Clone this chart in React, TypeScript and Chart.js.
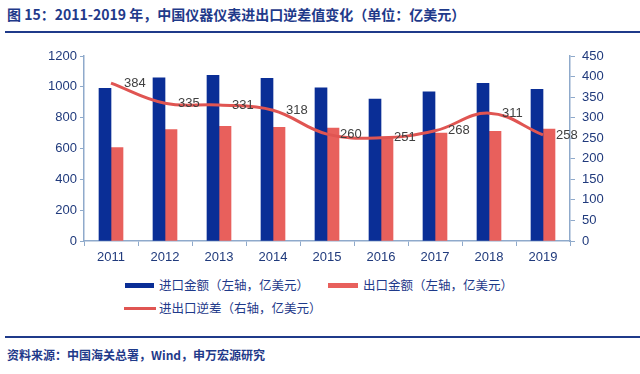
import React, { useEffect, useRef } from "react";
import { Chart, registerables } from "chart.js";

Chart.register(...registerables);

const categories = ["2011", "2012", "2013", "2014", "2015", "2016", "2017", "2018", "2019"];
const importValues = [990, 1058, 1075, 1055, 993, 921, 968, 1022, 984];
const exportValues = [606, 723, 744, 737, 733, 670, 700, 711, 726];
const deficitValues = [384, 335, 331, 318, 260, 251, 268, 311, 258];
const leftTicks = [0, 200, 400, 600, 800, 1000, 1200];
const rightTicks = [0, 50, 100, 150, 200, 250, 300, 350, 400, 450];

const TITLE = "图 15：2011-2019 年，中国仪器仪表进出口逆差值变化（单位：亿美元）";
const SOURCE = "资料来源：中国海关总署，Wind，申万宏源研究";
const LEGEND_IMPORT = "进口金额（左轴，亿美元）";
const LEGEND_EXPORT = "出口金额（左轴，亿美元）";
const LEGEND_DEFICIT = "进出口逆差（右轴，亿美元）";

const NAVY = "#1F3A8A";
const TICK_COLOR = "#203A7C";
const AXIS_COLOR = "#8FAACB";
const BLUE = "#0A2E96";
const RED = "#E8605C";
const LINE_RED = "#E05552";
const CJK = '"Noto Sans CJK SC", "Noto Sans", sans-serif';

const lineLabelPlugin = {
  id: "lineLabels",
  afterDatasetsDraw(chart: any) {
    const meta = chart.getDatasetMeta(2);
    const ctx = chart.ctx;
    ctx.save();
    ctx.font = '13px "Liberation Sans", Arial, sans-serif';
    ctx.fillStyle = "#404040";
    ctx.textAlign = "left";
    ctx.textBaseline = "middle";
    meta.data.forEach((pt: any, i: number) => {
      ctx.fillText(String(deficitValues[i]), pt.x + 13, pt.y);
    });
    ctx.restore();
  },
};

export default function App() {
  const ref = useRef<HTMLCanvasElement | null>(null);

  useEffect(() => {
    if (!ref.current) return;
    const tickFont = { family: '"Liberation Sans", Arial, sans-serif', size: 13 };
    const chart = new Chart(ref.current, {
      type: "bar",
      data: {
        labels: categories,
        datasets: [
          {
            type: "bar",
            label: LEGEND_IMPORT,
            data: importValues,
            backgroundColor: BLUE,
            yAxisID: "y",
            barThickness: 12,
            order: 2,
          },
          {
            type: "bar",
            label: LEGEND_EXPORT,
            data: exportValues,
            backgroundColor: RED,
            yAxisID: "y",
            barThickness: 12,
            order: 2,
          },
          {
            type: "line",
            label: LEGEND_DEFICIT,
            data: deficitValues,
            borderColor: LINE_RED,
            borderWidth: 3,
            pointRadius: 0,
            tension: 0.4,
            fill: false,
            yAxisID: "y1",
            order: 1,
          } as any,
        ],
      },
      options: {
        animation: false,
        responsive: false,
        maintainAspectRatio: false,
        layout: { padding: { top: 16, left: 0, right: 0, bottom: 0 } },
        datasets: { bar: { categoryPercentage: 0.57, barPercentage: 0.78 } } as any,
        plugins: {
          legend: { display: false },
          tooltip: { enabled: false },
        },
        scales: {
          x: {
            offset: true,
            grid: {
              offset: true,
              drawOnChartArea: false,
              drawTicks: true,
              tickLength: 5,
              color: AXIS_COLOR,
            },
            border: { color: AXIS_COLOR, width: 1.5 },
            ticks: { color: TICK_COLOR, font: tickFont, padding: 4 },
            afterFit: (s: any) => {
              s.height = 30;
            },
          },
          y: {
            position: "left",
            min: 0,
            max: 1200,
            afterBuildTicks: (s: any) => {
              s.ticks = leftTicks.map((v) => ({ value: v }));
            },
            grid: {
              drawOnChartArea: false,
              drawTicks: true,
              tickLength: 4,
              color: AXIS_COLOR,
            },
            border: { color: AXIS_COLOR, width: 1.5 },
            ticks: {
              color: TICK_COLOR,
              font: tickFont,
              padding: 3,
              callback: (v: any) => String(v),
            },
            afterFit: (s: any) => {
              s.width = 84;
            },
          },
          y1: {
            position: "right",
            min: 0,
            max: 450,
            afterBuildTicks: (s: any) => {
              s.ticks = rightTicks.map((v) => ({ value: v }));
            },
            grid: {
              drawOnChartArea: false,
              drawTicks: true,
              tickLength: 5,
              color: AXIS_COLOR,
            },
            border: { color: AXIS_COLOR, width: 1.5 },
            ticks: {
              color: TICK_COLOR,
              font: tickFont,
              padding: 7,
              callback: (v: any) => String(v),
            },
            afterFit: (s: any) => {
              s.width = 70;
            },
          },
        },
      },
      plugins: [lineLabelPlugin],
    });
    return () => chart.destroy();
  }, []);

  const legendText: React.CSSProperties = {
    fontFamily: CJK,
    fontSize: 12.5,
    color: NAVY,
    whiteSpace: "nowrap",
    lineHeight: "14px",
  };

  return (
    <div
      style={{
        position: "absolute",
        left: 0,
        top: 0,
        width: 640,
        height: 374,
        background: "#fff",
        overflow: "hidden",
      }}
    >
      <div
        style={{
          position: "absolute",
          left: 7,
          top: 5,
          fontFamily: CJK,
          fontWeight: 700,
          fontSize: 14,
          color: NAVY,
          whiteSpace: "nowrap",
          lineHeight: "18px",
        }}
      >
        {TITLE}
      </div>
      <div style={{ position: "absolute", left: 5, top: 31, width: 635, height: 2, background: NAVY }} />
      <canvas
        ref={ref}
        width={640}
        height={231}
        style={{ position: "absolute", left: 0, top: 40, width: 640, height: 231 }}
      />
      <div style={{ position: "absolute", left: 125, top: 283, width: 29, height: 5, background: BLUE }} />
      <div style={{ ...legendText, position: "absolute", left: 159, top: 278 }}>{LEGEND_IMPORT}</div>
      <div style={{ position: "absolute", left: 328, top: 283, width: 30, height: 5, background: RED }} />
      <div style={{ ...legendText, position: "absolute", left: 363, top: 278 }}>{LEGEND_EXPORT}</div>
      <div style={{ position: "absolute", left: 124, top: 307, width: 32, height: 2.5, background: LINE_RED }} />
      <div style={{ ...legendText, position: "absolute", left: 159, top: 301 }}>{LEGEND_DEFICIT}</div>
      <div style={{ position: "absolute", left: 5, top: 336, width: 635, height: 2, background: NAVY }} />
      <div
        style={{
          position: "absolute",
          left: 7,
          top: 346,
          fontFamily: CJK,
          fontWeight: 700,
          fontSize: 12,
          color: NAVY,
          whiteSpace: "nowrap",
          lineHeight: "18px",
        }}
      >
        {SOURCE}
      </div>
    </div>
  );
}
